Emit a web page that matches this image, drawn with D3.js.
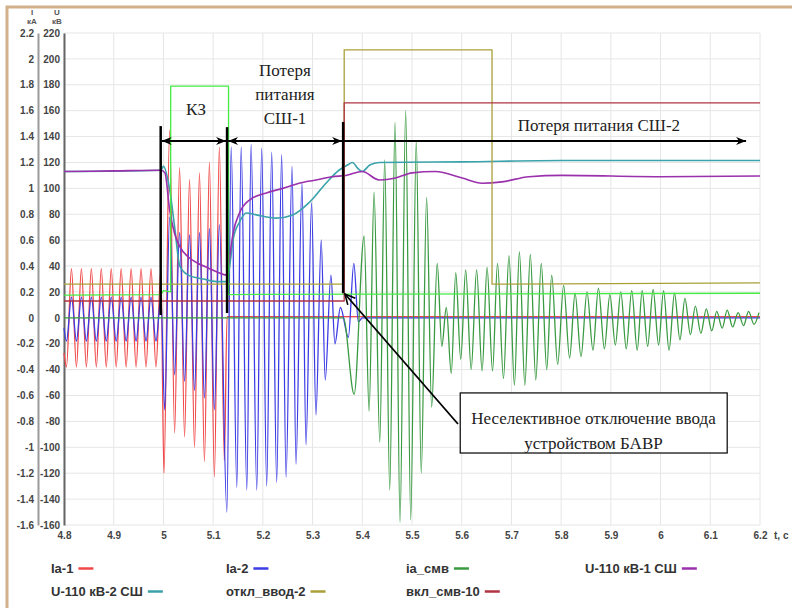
<!DOCTYPE html>
<html lang="ru">
<head>
<meta charset="utf-8">
<title>Осциллограмма — неселективное отключение ввода БАВР</title>
<script src="https://cdn.jsdelivr.net/npm/d3@7"></script>
<style>
  html, body { margin: 0; padding: 0; background: #fff; }
  svg { display: block; }
  .axis text   { font: bold 10px "Liberation Sans", Arial, sans-serif; fill: #444; }
  .axis .domain { stroke-width: 2; }
  .unit        { font: bold 8px "Liberation Sans", Arial, sans-serif; fill: #555; }
  .legend text { font: bold 13px "Liberation Sans", Arial, sans-serif; fill: #333; }
  .note        { font-family: "Liberation Serif", "Times New Roman", serif; font-size: 17px; fill: #222; }
</style>
</head>
<body>
<svg id="chart" width="792" height="608"></svg>
<script>
// ═══════════════════════════════════════════════════════════
// Data  — [t, value]
// currents in kA, voltages in kV, discrete signals in kA-scale
// ═══════════════════════════════════════════════════════════
const tTicks = [4.8, 4.9, 5.0, 5.1, 5.2, 5.3, 5.4, 5.5, 5.6, 5.7, 5.8, 5.9, 6.0, 6.1, 6.2];
const iTicks = [-1.6, -1.4, -1.2, -1, -0.8, -0.6, -0.4, -0.2, 0, 0.2, 0.4, 0.6, 0.8, 1, 1.2, 1.4, 1.6, 1.8, 2, 2.2];
const uTicks = [-160, -140, -120, -100, -80, -60, -40, -20, 0, 20, 40, 60, 80, 100, 120, 140, 160, 180, 200, 220];

// Ia-1 (peaks / troughs of each half-cycle)
const ia1 = [
  [4.800, -0.27],
  [4.805, -0.38], [4.815, 0.38], [4.825, -0.38], [4.835, 0.38], [4.845, -0.38], [4.855, 0.38],
  [4.865, -0.38], [4.875, 0.38], [4.885, -0.38], [4.895, 0.38], [4.905, -0.38], [4.915, 0.38],
  [4.925, -0.38], [4.935, 0.38], [4.945, -0.38], [4.955, 0.38], [4.965, -0.38], [4.975, 0.38],
  [4.985, -0.38], [4.995, 0.38],
  [5.001, -1.20], [5.0125, 1.45], [5.0225, -0.89], [5.0325, 1.16], [5.0425, -0.92], [5.0525, 1.07],
  [5.0625, -1.00], [5.0725, 1.12], [5.0825, -1.11], [5.0925, 1.20], [5.1025, -1.23], [5.1125, 1.32],
  [5.1225, -1.10], [5.128, 0.01], [6.200, 0.01]
];

// Ia-2
const ia2 = [
  [4.800, -0.08],
  [4.805, -0.18], [4.815, 0.16], [4.825, -0.18], [4.835, 0.16], [4.845, -0.18], [4.855, 0.16],
  [4.865, -0.18], [4.875, 0.16], [4.885, -0.18], [4.895, 0.16], [4.905, -0.18], [4.915, 0.16],
  [4.925, -0.18], [4.935, 0.16], [4.945, -0.18], [4.955, 0.16], [4.965, -0.18], [4.975, 0.16],
  [4.985, -0.18], [4.995, 0.16],
  [5.0025, -0.71], [5.0125, 0.78], [5.0225, -0.44], [5.0325, 0.66], [5.0425, -0.49], [5.0525, 0.64],
  [5.0625, -0.56], [5.0725, 0.66], [5.0825, -0.62], [5.0925, 0.69], [5.1025, -0.71], [5.1125, 0.72],
  [5.1276, -1.50], [5.1363, 1.32], [5.1476, -1.31], [5.1564, 1.32], [5.1677, -1.33], [5.1764, 1.34],
  [5.1877, -1.33], [5.1977, 1.31], [5.2077, -1.30], [5.2178, 1.28], [5.2278, -1.27], [5.2378, 1.26],
  [5.2467, -1.23], [5.2587, 1.17], [5.2667, -1.13], [5.2787, 1.04], [5.2868, -0.98], [5.2980, 0.89],
  [5.3068, -0.75], [5.3174, 0.60], [5.3255, -0.48], [5.3369, 0.33], [5.3450, -0.20], [5.3560, 0.08],
  [5.3720, -0.15], [5.3830, 0.42], [5.3920, -0.03], [5.400, 0.00], [6.200, 0.00]
];

// ia_смв
const iaSmv = [
  [4.800, 0.00], [5.362, 0.00],
  [5.3836, -0.59], [5.4037, 0.63], [5.4137, -0.72], [5.4237, 0.97], [5.4352, -0.96], [5.4451, 1.22],
  [5.4552, -1.33], [5.4659, 1.51], [5.4759, -1.58], [5.4873, 1.60], [5.4974, -1.56], [5.5086, 1.37],
  [5.5186, -1.20], [5.5294, 0.93], [5.5395, -0.69], [5.5507, 0.42], [5.560, -0.22], [5.569, 0.08],
  [5.579, -0.43], [5.588, 0.35], [5.598, -0.32], [5.608, 0.37], [5.619, -0.40], [5.630, 0.37],
  [5.641, -0.41], [5.651, 0.39], [5.662, -0.41], [5.672, 0.42], [5.684, -0.47], [5.695, 0.48],
  [5.706, -0.52], [5.716, 0.51], [5.727, -0.52], [5.738, 0.49], [5.749, -0.48], [5.760, 0.42],
  [5.771, -0.40], [5.781, 0.33], [5.793, -0.36], [5.805, 0.25], [5.817, -0.31], [5.828, 0.19],
  [5.840, -0.30], [5.852, 0.20], [5.864, -0.25], [5.875, 0.23], [5.887, -0.24], [5.898, 0.18],
  [5.909, -0.21], [5.920, 0.20], [5.931, -0.24], [5.942, 0.21], [5.953, -0.25], [5.963, 0.21],
  [5.974, -0.22], [5.985, 0.22], [5.996, -0.21], [6.006, 0.21], [6.017, -0.25], [6.028, 0.19],
  [6.039, -0.17], [6.049, 0.15], [6.060, -0.13], [6.070, 0.09], [6.081, -0.12], [6.092, 0.07],
  [6.103, -0.10], [6.113, 0.05], [6.124, -0.08], [6.134, 0.06], [6.145, -0.07], [6.156, 0.04],
  [6.167, -0.06], [6.177, 0.05], [6.188, -0.05], [6.198, 0.04]
];

// U-110 кВ-1 СШ (kV)
const u1 = [
  [4.800, 113], [4.900, 113.5], [4.995, 114], [5.003, 112], [5.0126, 83], [5.0226, 65], [5.033, 55],
  [5.050, 47], [5.070, 42], [5.090, 38.5], [5.110, 35], [5.127, 33], [5.135, 52], [5.140, 65],
  [5.153, 81], [5.173, 91], [5.207, 96.5], [5.240, 100], [5.273, 104], [5.307, 106.5], [5.340, 109],
  [5.367, 110], [5.400, 113], [5.434, 106.5], [5.467, 108], [5.500, 112], [5.547, 113], [5.601, 108],
  [5.641, 104], [5.681, 105], [5.735, 109], [5.801, 110], [6.000, 109], [6.200, 109.5]
];

// U-110 кВ-2 СШ (kV)
const u2 = [
  [4.800, 113], [4.995, 114], [5.000, 117], [5.0126, 99], [5.0226, 70], [5.033, 40], [5.050, 33],
  [5.080, 30], [5.107, 28], [5.127, 28], [5.135, 45], [5.140, 60], [5.153, 74], [5.167, 81],
  [5.187, 79.5], [5.227, 77], [5.260, 79.5], [5.293, 89], [5.327, 104], [5.353, 114], [5.370, 118],
  [5.380, 120], [5.392, 115], [5.400, 113], [5.415, 118], [5.434, 120], [5.600, 120.5],
  [5.800, 121.5], [6.200, 121.5]
];

// откл_ввод-2, вкл_смв-10 and the КЗ flag (step signals)
const otklVvod2 = [[4.800, 0.26], [5.3636, 0.26], [5.3636, 2.07], [5.661, 2.07], [5.661, 0.26], [6.200, 0.27]];
const vklSmv10  = [[4.800, 0.13], [5.3636, 0.13], [5.3636, 1.66], [6.200, 1.66]];
const kzFlag    = [[4.800, 0.175], [4.995, 0.18], [5.000, 0.21], [5.0146, 0.20], [5.0146, 1.79],
                   [5.131, 1.79], [5.131, 0.18], [6.200, 0.19]];

// Annotation anchors (data units)
const markTimes   = [4.9945, 5.128, 5.3615];   // black verticals
const markTops    = [1.481, 1.473, 1.513];
const markBottoms = [0.022, 0.037, 0.190];
const arrowLevel  = 1.366;
const arrowEnd    = 6.174;

// ═══════════════════════════════════════════════════════════
// Series table
// ═══════════════════════════════════════════════════════════
const SERIES = [
  { name: 'Ia-1',           pts: ia1,       color: '#f04848', unit: 'I', wave: true  },
  { name: 'Ia-2',           pts: ia2,       color: '#3c3ce4', unit: 'I', wave: true  },
  { name: 'ia_смв',         pts: iaSmv,     color: '#3a9a42', unit: 'I', wave: true  },
  { name: 'U-110 кВ-1 СШ',  pts: u1,        color: '#9a30ac', unit: 'U', wave: true  },
  { name: 'U-110 кВ-2 СШ',  pts: u2,        color: '#3aa2aa', unit: 'U', wave: true  },
  { name: 'откл_ввод-2',    pts: otklVvod2, color: '#aaa038', unit: 'I', wave: false },
  { name: 'вкл_смв-10',     pts: vklSmv10,  color: '#b03444', unit: 'I', wave: false },
  { name: null,             pts: kzFlag,    color: '#44ec44', unit: 'I', wave: false },
];
// draw order (back → front)
const DRAW = ['Ia-1', 'Ia-2', 'ia_смв', 'U-110 кВ-2 СШ', 'U-110 кВ-1 СШ', 'откл_ввод-2', null, 'вкл_смв-10'];

// ═══════════════════════════════════════════════════════════
// Scales / frame
// ═══════════════════════════════════════════════════════════
const svg = d3.select('#chart');
const L = 64, R = 760, T = 33, B = 525;

const x  = d3.scaleLinear().domain([4.8, 6.2]).range([L, R]);
const yI = d3.scaleLinear().domain([-1.6, 2.2]).range([B, T]);
const yU = d3.scaleLinear().domain([-160, 220]).range([B, T]);

svg.append('rect').attr('width', 792).attr('height', 608).attr('fill', '#fff');

// picture frame (top + left edges)
svg.append('path')
  .attr('d', 'M7,608V7H792')
  .attr('fill', 'none').attr('stroke', '#d3b08c').attr('stroke-width', 3);

// ── Grid ──────────────────────────────────────────────────
const grid = svg.append('g').attr('stroke', '#e6e6e6').attr('stroke-width', 1);
grid.selectAll('.gx').data(tTicks).join('line')
  .attr('x1', d => x(d)).attr('x2', d => x(d)).attr('y1', T).attr('y2', B);
grid.selectAll('.gy').data(iTicks).join('line')
  .attr('x1', L).attr('x2', R).attr('y1', d => yI(d)).attr('y2', d => yI(d));

// ── Axes ──────────────────────────────────────────────────
const fmt = d => String(d);

const gI = svg.append('g').attr('class', 'axis').attr('transform', 'translate(38,0)')
  .call(d3.axisLeft(yI).tickValues(iTicks).tickSize(0).tickPadding(4).tickFormat(fmt));
gI.select('.domain').attr('stroke', '#9a9a9a');

const gU = svg.append('g').attr('class', 'axis').attr('transform', `translate(${L},0)`)
  .call(d3.axisLeft(yU).tickValues(uTicks).tickSize(0).tickPadding(4).tickFormat(fmt));
gU.select('.domain').attr('stroke', '#666');

const gT = svg.append('g').attr('class', 'axis').attr('transform', `translate(0,${B})`)
  .call(d3.axisBottom(x).tickValues(tTicks).tickSize(0).tickPadding(7).tickFormat(fmt));
gT.select('.domain').remove();

svg.append('text').attr('x', 774).attr('y', 539)
  .style('font', 'bold 10px "Liberation Sans", Arial, sans-serif').style('fill', '#444')
  .text('t, c');

// unit headers
[['I', 32, 15], ['кА', 32, 24], ['U', 57, 15], ['кВ', 57, 24]].forEach(([s, ux, uy]) =>
  svg.append('text').attr('class', 'unit').attr('x', ux).attr('y', uy)
    .attr('text-anchor', 'middle').text(s));

// ── Traces ────────────────────────────────────────────────
const plot = svg.append('g');
DRAW.forEach(nm => {
  const s = SERIES.find(d => d.name === nm);
  const yS = s.unit === 'U' ? yU : yI;
  const line = d3.line()
    .x(d => x(d[0])).y(d => yS(d[1]))
    .curve(s.wave ? d3.curveMonotoneX : d3.curveLinear);
  plot.append('path')
    .datum(s.pts)
    .attr('d', line)
    .attr('fill', 'none')
    .attr('stroke', s.color)
    .attr('stroke-width', s.unit === 'U' ? 1.6 : 1.3)
    .attr('stroke-linejoin', 'round');
});

// ═══════════════════════════════════════════════════════════
// Annotations
// ═══════════════════════════════════════════════════════════
const defs = svg.append('defs');
defs.append('marker')
  .attr('id', 'head').attr('viewBox', '0 0 10 8')
  .attr('refX', 10).attr('refY', 4)
  .attr('markerWidth', 10).attr('markerHeight', 8)
  .attr('markerUnits', 'userSpaceOnUse')
  .attr('orient', 'auto-start-reverse')
  .append('path').attr('d', 'M0,0L10,4L0,8L3,4Z').attr('fill', '#000');
defs.append('marker')
  .attr('id', 'open').attr('viewBox', '0 0 12 12')
  .attr('refX', 11).attr('refY', 6)
  .attr('markerWidth', 12).attr('markerHeight', 12)
  .attr('markerUnits', 'userSpaceOnUse')
  .attr('orient', 'auto')
  .append('path').attr('d', 'M1,1L11,6L1,11').attr('fill', 'none')
  .attr('stroke', '#000').attr('stroke-width', 1.6);

const ann = svg.append('g').attr('stroke', '#000');

ann.selectAll('.mark').data(markTimes).join('line')
  .attr('x1', d => x(d)).attr('x2', d => x(d))
  .attr('y1', (d, i) => yI(markTops[i])).attr('y2', (d, i) => yI(markBottoms[i]))
  .attr('stroke-width', 2.5);

const spans = [[markTimes[0], markTimes[1], true], [markTimes[1], markTimes[2], true], [markTimes[2], arrowEnd, false]];
ann.selectAll('.span').data(spans).join('line')
  .attr('x1', d => x(d[0]) + (d[2] ? 1 : 0)).attr('x2', d => x(d[1]) - 1)
  .attr('y1', yI(arrowLevel)).attr('y2', yI(arrowLevel))
  .attr('stroke-width', 2)
  .attr('marker-start', d => d[2] ? 'url(#head)' : null)
  .attr('marker-end', 'url(#head)');

// callout box
const box = { t0: 5.597, t1: 6.134, v0: -0.58, v1: -1.044 };
ann.append('line')
  .attr('x1', x(5.5925)).attr('y1', yI(-0.82))
  .attr('x2', x(5.3652)).attr('y2', yI(0.184))
  .attr('stroke-width', 1.8)
  .attr('marker-end', 'url(#open)');
ann.append('rect')
  .attr('x', x(box.t0)).attr('y', yI(box.v0))
  .attr('width', x(box.t1) - x(box.t0)).attr('height', yI(box.v1) - yI(box.v0))
  .attr('fill', '#fff').attr('stroke-width', 1.2);

const notes = [
  ['КЗ', 5.0655, 1.567],
  ['Потеря', 5.2445, 1.868],
  ['питания', 5.2445, 1.683],
  ['СШ-1', 5.2445, 1.497],
  ['Потеря питания СШ-2', 5.876, 1.443],
  ['Неселективное отключение ввода', 5.865, -0.82],
  ['устройством БАВР', 5.865, -1.013],
];
svg.append('g').selectAll('text').data(notes).join('text')
  .attr('class', 'note')
  .attr('x', d => x(d[1])).attr('y', d => yI(d[2]))
  .attr('text-anchor', 'middle')
  .text(d => d[0]);

// ═══════════════════════════════════════════════════════════
// Legend
// ═══════════════════════════════════════════════════════════
const legendCols = [51, 226, 406, 585];
const legendRows = [573, 596];
const legendItems = SERIES.filter(s => s.name);
const lg = svg.append('g').attr('class', 'legend');
legendItems.forEach((s, i) => {
  const lx = legendCols[i % 4], ly = legendRows[Math.floor(i / 4)];
  const txt = lg.append('text').attr('x', lx).attr('y', ly).text(s.name);
  const w = txt.node().getComputedTextLength();
  lg.append('line')
    .attr('x1', lx + w + 5).attr('x2', lx + w + 20)
    .attr('y1', ly - 4.5).attr('y2', ly - 4.5)
    .attr('stroke', s.color).attr('stroke-width', 2.5);
});
</script>
</body>
</html>
